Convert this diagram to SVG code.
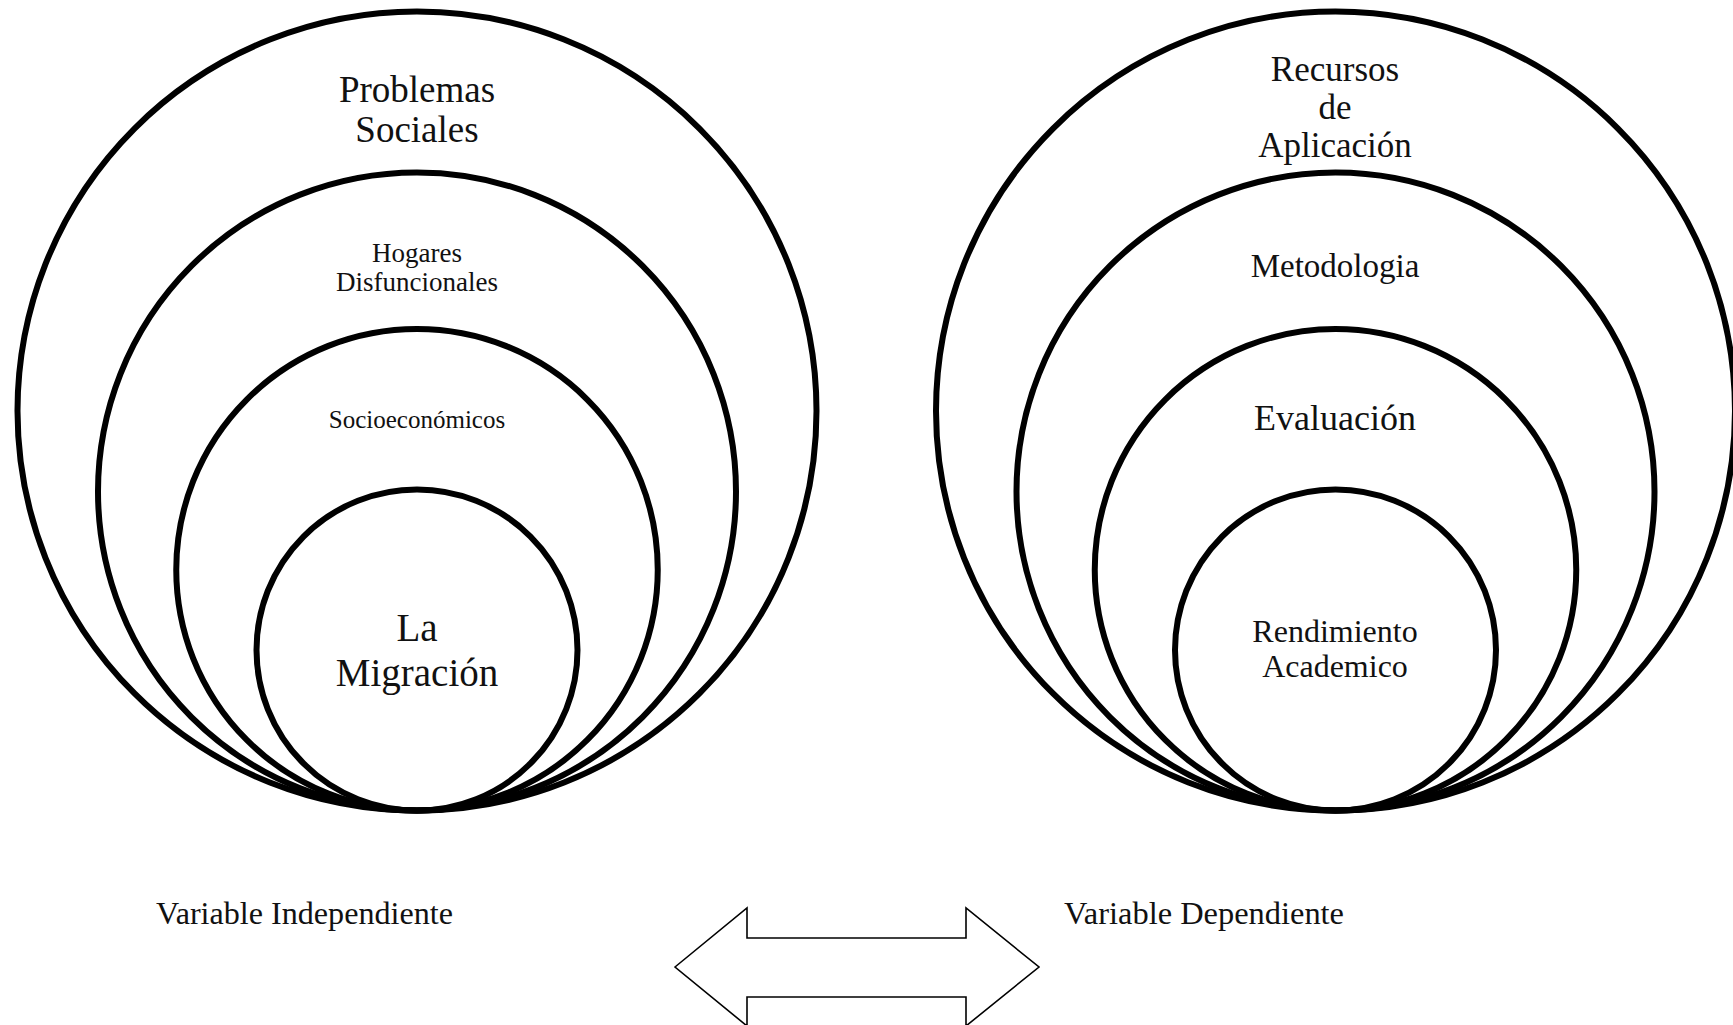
<svg xmlns="http://www.w3.org/2000/svg" width="1733" height="1025" viewBox="0 0 1733 1025">
<style>
.c{fill:none;stroke:#000;stroke-width:6}
.t{font-family:"Liberation Serif","Times New Roman",serif;fill:#111;text-anchor:middle}
.l{font-family:"Liberation Serif","Times New Roman",serif;fill:#111;font-size:31px}
</style>
<rect width="1733" height="1025" fill="#fff"/>
<g id="left">
<g id="problemas-sociales"><circle class="c" cx="417" cy="411" r="399.5"/>
<text class="t" x="417" y="102" font-size="37">Problemas</text>
<text class="t" x="417" y="142" font-size="37">Sociales</text></g>
<g id="hogares"><circle class="c" cx="417" cy="491.5" r="319"/>
<text class="t" x="417" y="262" font-size="27">Hogares</text>
<text class="t" x="417" y="291" font-size="27">Disfuncionales</text></g>
<g id="socioeconomicos"><circle class="c" cx="417" cy="569.75" r="240.75"/>
<text class="t" x="417" y="428" font-size="25">Socioeconómicos</text></g>
<g id="migracion"><circle class="c" cx="417" cy="650" r="160.5"/>
<text class="t" x="417" y="641" font-size="39">La</text>
<text class="t" x="417" y="686" font-size="39">Migración</text></g>
</g>
<g id="right">
<g id="recursos"><circle class="c" cx="1335.5" cy="411" r="399.5"/>
<text class="t" x="1335" y="81" font-size="35">Recursos</text>
<text class="t" x="1335" y="119" font-size="35">de</text>
<text class="t" x="1335" y="157" font-size="35">Aplicación</text></g>
<g id="metodologia"><circle class="c" cx="1335.5" cy="491.5" r="319"/>
<text class="t" x="1335" y="277" font-size="33">Metodologia</text></g>
<g id="evaluacion"><circle class="c" cx="1335.5" cy="569.75" r="240.75"/>
<text class="t" x="1335" y="430" font-size="36">Evaluación</text></g>
<g id="rendimiento"><circle class="c" cx="1335.5" cy="650" r="160.5"/>
<text class="t" x="1335" y="642" font-size="32">Rendimiento</text>
<text class="t" x="1335" y="677" font-size="32">Academico</text></g>
</g>
<g id="label-independiente"><text class="l" x="156" y="924" textLength="297" lengthAdjust="spacingAndGlyphs">Variable Independiente</text></g>
<g id="label-dependiente"><text class="l" x="1064" y="924" textLength="280" lengthAdjust="spacingAndGlyphs">Variable Dependiente</text></g>
<g id="connectors">
<polygon points="675,967 747,908 747,938 966,938 966,908 1039,967 966,1026 966,997 747,997 747,1026" fill="#fff" stroke="#000" stroke-width="1.6" stroke-linejoin="miter"/>
</g>
</svg>
